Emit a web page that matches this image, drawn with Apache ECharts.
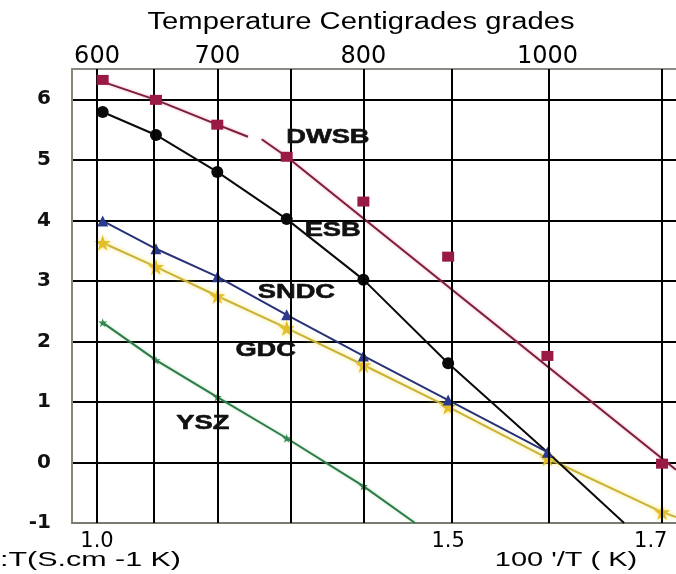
<!DOCTYPE html>
<html>
<head>
<meta charset="utf-8">
<script src="https://cdn.jsdelivr.net/npm/echarts@6/dist/echarts.min.js"></script>
<style>
html,body{margin:0;padding:0;background:#fff;}
#chart{width:676px;height:574px;}
</style>
</head>
<body>
<div id="chart"></div>
<script>
// ---- data ----
const xMin = 0.969, xMax = 1.7173;
const yMin = -1, yMax = 6.5;
const gridX = [1.0, 1.073, 1.149, 1.235, 1.33, 1.435, 1.558, 1.7];       // vertical grid lines (1000/T)
const pointX = [1.007, 1.073, 1.149, 1.235, 1.33, 1.435, 1.558, 1.7];    // measurement positions
const topTickValues = [1.0, 1.149, 1.33, 1.558];
const topTickLabels = ['600', '700', '800', '1000'];
const bottomTickValues = [1.0, 1.435, 1.686];
const bottomTickLabels = ['1.0', '1.5', '1.7'];

const dwsbY = [6.32, 5.99, 5.58, 5.05, 4.31, 3.40, 1.76, -0.02];
const dwsbFitA = [[1.0, 6.32], [1.073, 5.99], [1.149, 5.58], [1.187, 5.38]];
const dwsbFitB = [[1.204, 5.34], [1.235, 5.05], [1.7173, -0.12]];
const esbY = [5.79, 5.41, 4.80, 4.02, 3.02, 1.64];
const esbTail = [[1.558, 0.17], [1.653, -1.0]];
const sndcY = [3.99, 3.53, 3.07, 2.44, 1.76, 1.03, 0.17];
const gdcY = [3.63, 3.23, 2.75, 2.22, 1.61, 0.92, 0.07, -0.82];
const gdcTail = [[1.7173, -0.9]];
const yszY = [2.31, 1.69, 1.08, 0.40, -0.39];
const yszTail = [[1.394, -1.0]];

const curveNames = ['DWSB', 'ESB', 'SNDC', 'GDC', 'YSZ'];
const curveLabelX = [1.286, 1.292, 1.247, 1.209, 1.131];
const curveLabelY = [5.37, 3.84, 2.82, 1.86, 0.65];

const titleText = 'Temperature Centigrades grades';
const yNameText = ':T(S.cm -1 K)';
const xNameText = "100 '/T ( K)";

// ---- helpers ----
const STAR = 'path://M50,0 L61,35 L98,35 L68,57 L79,91 L50,70 L21,91 L32,57 L2,35 L39,35 Z';
function pts(ys) { return ys.map((y, i) => [pointX[i], y]); }
function tail(arr) { return arr.map(p => ({ value: p, symbol: 'none' })); }
function nearestLabel(vals, labels, v) {
  let bi = 0, bd = Infinity;
  vals.forEach((x, i) => { const d = Math.abs(x - v); if (d < bd) { bd = d; bi = i; } });
  return bd < 1e-6 ? labels[bi] : '';
}

const chart = echarts.init(document.getElementById('chart'), null, { renderer: 'canvas' });

const option = {
  animation: false,
  backgroundColor: '#ffffff',
  grid: { left: 72, right: 0, top: 69, bottom: 51, containLabel: false },
  xAxis: [
    {
      type: 'value', position: 'bottom', min: xMin, max: xMax,
      axisLine: { show: true, onZero: false, lineStyle: { color: '#7a7a72', width: 2 } },
      axisTick: { show: false },
      splitLine: { show: false },
      axisLabel: {
        customValues: bottomTickValues,
        formatter: v => nearestLabel(bottomTickValues, bottomTickLabels, v),
        fontFamily: 'DejaVu Sans', fontSize: 21, color: '#000', margin: 8,
        showMinLabel: true, showMaxLabel: true
      }
    },
    {
      type: 'value', position: 'top', min: xMin, max: xMax,
      axisLine: { show: true, onZero: false, lineStyle: { color: '#8a8a84', width: 2 } },
      axisTick: { show: false },
      splitLine: { show: false },
      axisLabel: {
        customValues: topTickValues,
        formatter: v => nearestLabel(topTickValues, topTickLabels, v),
        fontFamily: 'DejaVu Sans', fontSize: 24, color: '#000', margin: 0,
        showMinLabel: true, showMaxLabel: true
      }
    }
  ],
  yAxis: {
    type: 'value', min: yMin, max: yMax, interval: 1,
    axisLine: { show: true, onZero: false, lineStyle: { color: '#8a8470', width: 2 } },
    axisTick: { show: false },
    axisLabel: {
      fontFamily: 'DejaVu Sans', fontSize: 20, fontWeight: 'bold', color: '#111', margin: 21,
      showMaxLabel: false,
      formatter: v => (Math.abs(v - Math.round(v)) < 1e-9 ? String(Math.round(v)) : '')
    },
    splitLine: { show: true, lineStyle: { color: '#000', width: 2 } }
  },
  series: [
    {
      name: 'grid', type: 'line', data: [], z: 1, silent: true,
      markLine: {
        silent: true, symbol: ['none', 'none'], animation: false,
        label: { show: false },
        lineStyle: { color: '#000', width: 2, type: 'solid' },
        data: gridX.map(v => ({ xAxis: v }))
      }
    },
    {
      name: 'DWSB fit A', type: 'line', data: dwsbFitA, showSymbol: false, z: 3,
      lineStyle: { color: '#7d1e3a', width: 2, shadowColor: 'rgba(225,110,140,0.6)', shadowBlur: 3 }
    },
    {
      name: 'DWSB fit B', type: 'line', data: dwsbFitB, showSymbol: false, z: 3,
      lineStyle: { color: '#7d1e3a', width: 2, shadowColor: 'rgba(225,110,140,0.6)', shadowBlur: 3 }
    },
    {
      name: 'DWSB', type: 'scatter', data: pts(dwsbY), z: 5,
      symbol: 'rect', symbolSize: [12, 10],
      itemStyle: { color: '#9a1a46', opacity: 1 }
    },
    {
      name: 'ESB', type: 'line', data: pts(esbY).concat(tail(esbTail)), z: 4,
      symbol: 'circle', symbolSize: 12, showAllSymbol: true,
      lineStyle: { color: '#0a0a0a', width: 2 },
      itemStyle: { color: '#0a0a0a', borderWidth: 0 }
    },
    {
      name: 'SNDC', type: 'line', data: pts(sndcY), z: 4,
      symbol: 'triangle', symbolSize: 11, showAllSymbol: true,
      lineStyle: { color: '#283276', width: 2 },
      itemStyle: { color: '#2a3a8e', borderWidth: 0 }
    },
    {
      name: 'GDC', type: 'line', data: pts(gdcY).concat(tail(gdcTail)), z: 3,
      symbol: STAR, symbolSize: 16, showAllSymbol: true,
      lineStyle: { color: '#c9b23a', width: 2, shadowColor: 'rgba(245,225,80,0.8)', shadowBlur: 4 },
      itemStyle: { color: '#e3bd2c', borderWidth: 0, shadowColor: 'rgba(250,230,90,0.8)', shadowBlur: 4 }
    },
    {
      name: 'YSZ', type: 'line', data: pts(yszY).concat(tail(yszTail)), z: 3,
      symbol: STAR, symbolSize: 9, showAllSymbol: true,
      lineStyle: { color: '#2d7a4a', width: 2, shadowColor: 'rgba(140,210,140,0.6)', shadowBlur: 3 },
      itemStyle: { color: '#2f8a50', borderWidth: 0 }
    }
  ]
};
chart.setOption(option);

function txt(text, x, y, opts) {
  return {
    type: 'text', x: x, y: y, scaleX: opts.scaleX || 1, z: 100, silent: true,
    style: {
      text: text, font: opts.font, fill: opts.fill || '#000',
      stroke: opts.stroke || null, lineWidth: opts.lineWidth || 0,
      textAlign: opts.align || 'center', textVerticalAlign: 'middle',
      align: opts.align || 'center', verticalAlign: 'middle'
    }
  };
}

const graphics = [];
graphics.push(txt(titleText, 361, 23, { font: '23px "Liberation Sans", Arial, sans-serif', scaleX: 1.27 }));
graphics.push(txt(yNameText, 0, 560, { font: '21px "Liberation Sans", Arial, sans-serif', scaleX: 1.45, align: 'left' }));
graphics.push(txt(xNameText, 566, 560, { font: '21px "Liberation Sans", Arial, sans-serif', scaleX: 1.38 }));
curveNames.forEach((n, i) => {
  const p = chart.convertToPixel({ xAxisIndex: 0, yAxisIndex: 0 }, [curveLabelX[i], curveLabelY[i]]);
  graphics.push(txt(n, p[0], p[1], { font: 'bold 21px "Liberation Sans", Arial, sans-serif', scaleX: 1.3, fill: '#111', stroke: '#111', lineWidth: 0.6 }));
});
chart.setOption({ graphic: graphics });
</script>
</body>
</html>
